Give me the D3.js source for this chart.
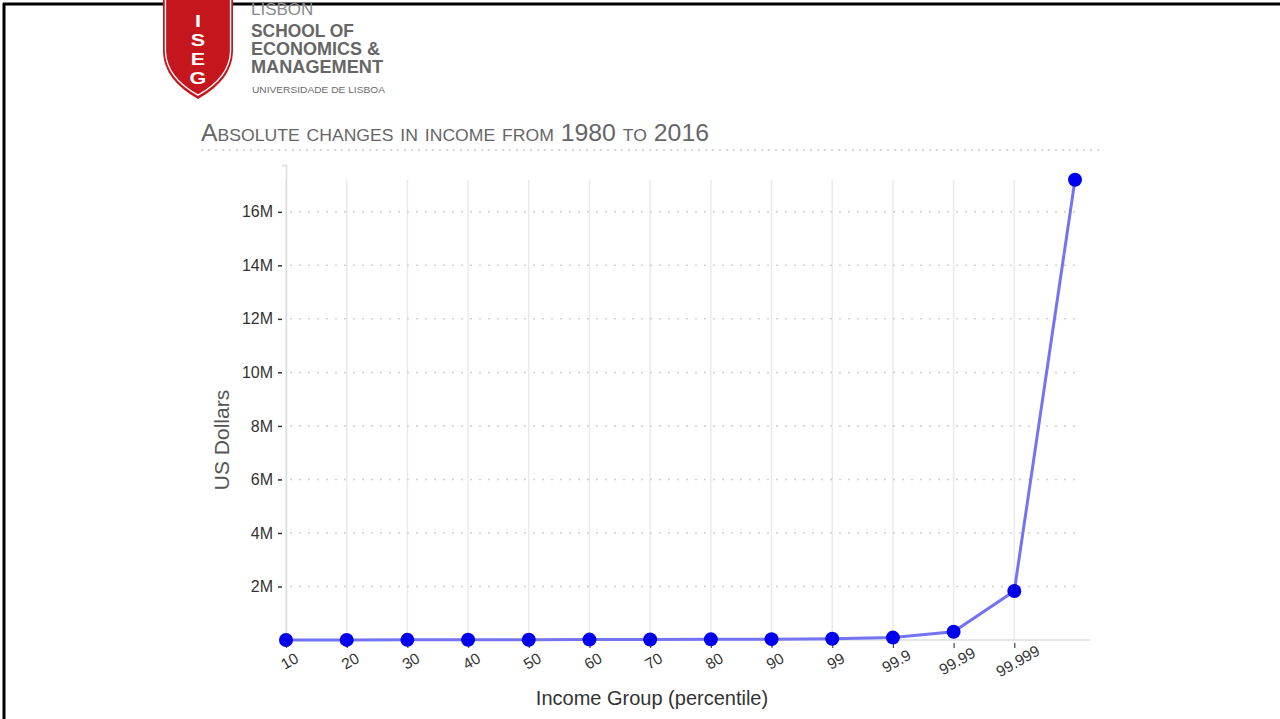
<!DOCTYPE html>
<html>
<head>
<meta charset="utf-8">
<script src="https://cdn.jsdelivr.net/npm/d3@7/dist/d3.min.js"></script>
<style>
  html, body { margin: 0; padding: 0; background: #fff; }
  svg { display: block; font-family: "Liberation Sans", Arial, Helvetica, sans-serif; }
</style>
</head>
<body>
<svg id="chart" width="1280" height="719"></svg>
<script>
// Income groups (percentiles) and absolute income change 1980-2016, in US dollars
const percentiles = ["10", "20", "30", "40", "50", "60", "70", "80", "90", "99", "99.9", "99.99", "99.999", "99.9999"];
const incomeChange = [1000, 3000, 5000, 8000, 11000, 15000, 19000, 25000, 32000, 45000, 90000, 310000, 1830000, 17200000];
const labelledGroups = ["10", "20", "30", "40", "50", "60", "70", "80", "90", "99", "99.9", "99.99", "99.999"];
const yTickValues = [2e6, 4e6, 6e6, 8e6, 10e6, 12e6, 14e6, 16e6];

const svg = d3.select("#chart");

// Frame lines along the top and left edges
svg.append("line").attr("x1", 3).attr("x2", 1280).attr("y1", 4).attr("y2", 4)
  .attr("stroke", "#000").attr("stroke-width", 3);
svg.append("line").attr("x1", 4).attr("x2", 4).attr("y1", 3).attr("y2", 719)
  .attr("stroke", "#000").attr("stroke-width", 3);

// ---- School logo ----
const logo = svg.append("g");
const shield = "M163,-10 L233,-10 L233,52 Q232,80 198,99 Q164,80 163,52 Z";
logo.append("path").attr("d", shield).attr("fill", "#c4161c");
logo.append("path").attr("d", shield).attr("fill", "none").attr("stroke", "#fff")
  .attr("stroke-width", 1.5).attr("transform", "translate(198,45) scale(0.93) translate(-198,-45)");
logo.append("path").attr("d", shield).attr("fill", "#c4161c")
  .attr("transform", "translate(198,45) scale(0.88) translate(-198,-45)");
["I", "S", "E", "G"].forEach((ch, i) => {
  logo.append("text").attr("transform", `translate(198,${[27, 46, 65, 84][i]}) scale(1.35,1)`)
    .attr("text-anchor", "middle").attr("fill", "#fff")
    .attr("font-size", 16).attr("font-weight", "bold").text(ch);
});
logo.append("text").attr("x", 251).attr("y", 15).attr("fill", "#8a8a8a")
  .attr("font-size", 17).text("LISBON");
[["SCHOOL OF", 37, 103], ["ECONOMICS &", 55, 129], ["MANAGEMENT", 73, 132]].forEach(([t, y, w]) => {
  logo.append("text").attr("x", 251).attr("y", y).attr("fill", "#666")
    .attr("font-size", 18).attr("font-weight", "bold")
    .attr("textLength", w).attr("lengthAdjust", "spacingAndGlyphs").text(t);
});
logo.append("text").attr("x", 252).attr("y", 93).attr("fill", "#6a6a6a")
  .attr("font-size", 9).attr("textLength", 133).attr("lengthAdjust", "spacingAndGlyphs")
  .text("UNIVERSIDADE DE LISBOA");

// ---- Title ----
svg.append("text").attr("x", 201).attr("y", 141)
  .attr("fill", "#666").attr("font-size", 24).style("font-variant", "small-caps")
  .attr("textLength", 508).attr("lengthAdjust", "spacingAndGlyphs")
  .text("Absolute changes in income from 1980 to 2016");
svg.append("line").attr("x1", 201).attr("x2", 1100).attr("y1", 150).attr("y2", 150)
  .attr("stroke", "#d6d6d6").attr("stroke-width", 2).attr("stroke-dasharray", "2,5");

// ---- Scales ----
const x = d3.scalePoint().domain(percentiles).range([286, 1075]);
const y = d3.scaleLinear().domain([0, 17.75e6]).range([640, 165]);

// Vertical grid lines at each labelled group
svg.append("g").selectAll("line").data(labelledGroups).join("line")
  .attr("x1", d => x(d)).attr("x2", d => x(d))
  .attr("y1", y.range()[1] + 15).attr("y2", y(0))
  .attr("stroke", "#eaeaea").attr("stroke-width", 1.5);

// Horizontal dotted grid lines
svg.append("g").selectAll("line").data(yTickValues).join("line")
  .attr("x1", 290).attr("x2", 1082)
  .attr("y1", d => y(d)).attr("y2", d => y(d))
  .attr("stroke", "#cfcfcf").attr("stroke-width", 1.5).attr("stroke-dasharray", "2,7");

// Y axis
const yAxis = svg.append("g").attr("transform", "translate(286,0)")
  .call(d3.axisLeft(y).tickValues(yTickValues).tickSize(4).tickPadding(9)
    .tickFormat(d => d3.format("d")(d / 1e6) + "M"));
yAxis.select(".domain").attr("stroke", "#ddd").attr("stroke-width", 1.5);
yAxis.selectAll(".tick line").attr("stroke", "#333").attr("stroke-width", 1.5)
  .attr("transform", "translate(-4,0)");
yAxis.selectAll(".tick text").attr("fill", "#333").attr("font-size", 16)
  .attr("font-family", "Liberation Sans, Arial, sans-serif");

// X axis
const xAxis = svg.append("g").attr("transform", "translate(0,640)")
  .call(d3.axisBottom(x).tickValues(labelledGroups).tickSize(6).tickSizeOuter(0));
xAxis.select(".domain").attr("d", "M286,0H1090").attr("stroke", "#ddd").attr("stroke-width", 1.5);
xAxis.selectAll(".tick line").attr("stroke", "#444").attr("stroke-width", 1.2)
  .attr("y1", 3).attr("y2", 8);
xAxis.selectAll(".tick text").attr("fill", "#333").attr("font-size", 15.5)
  .attr("font-family", "Liberation Sans, Arial, sans-serif")
  .attr("text-anchor", "middle").attr("y", 0).attr("dy", "0.35em")
  .attr("transform", "translate(3,21) rotate(-30)");

// Axis titles
svg.append("text").attr("transform", "translate(229,440) rotate(-90)")
  .attr("text-anchor", "middle").attr("fill", "#555").attr("font-size", 21)
  .text("US Dollars");
svg.append("text").attr("x", 652).attr("y", 705)
  .attr("text-anchor", "middle").attr("fill", "#333").attr("font-size", 20)
  .text("Income Group (percentile)");

// Line and points
const line = d3.line().x((d, i) => x(percentiles[i])).y(d => y(d));
svg.append("path").datum(incomeChange).attr("d", line)
  .attr("fill", "none").attr("stroke", "#7474f2").attr("stroke-width", 3);
svg.append("g").selectAll("circle").data(incomeChange).join("circle")
  .attr("cx", (d, i) => x(percentiles[i])).attr("cy", d => y(d)).attr("r", 7)
  .attr("fill", "#0000ee");
</script>
</body>
</html>
